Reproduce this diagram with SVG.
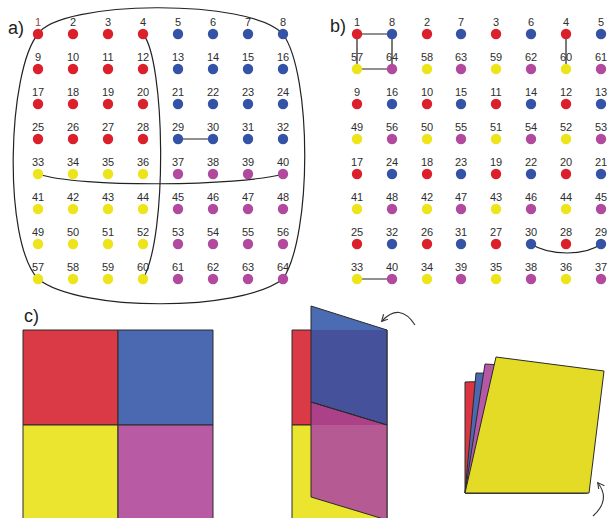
<svg xmlns="http://www.w3.org/2000/svg" width="609" height="518" viewBox="0 0 609 518">
  <style>
    .r{fill:#db1f2b}
    .b{fill:#3453a6}
    .y{fill:#eee41c}
    .m{fill:#b14a9f}
    .node circle{stroke:none}
    .node text{font-family:"Liberation Sans",Arial,sans-serif;font-size:11px;fill:#2e2e2e;text-anchor:middle}
    .panel{font-family:"Liberation Sans",Arial,sans-serif;font-size:18px;fill:#222}
    .link{fill:none;stroke:#222;stroke-width:1.2}
    .sheet{stroke:#2a2a2a;stroke-width:1;stroke-linejoin:round}
    .arrow{fill:none;stroke:#333;stroke-width:1.1}
  </style>
  <defs>
    <marker id="chev" markerWidth="8" markerHeight="8" refX="6" refY="3.5" orient="auto" markerUnits="userSpaceOnUse">
      <path d="M0,0 L6.5,3.5 L0,7" fill="none" stroke="#333" stroke-width="1.1"/>
    </marker>
  </defs>
  <rect width="609" height="518" fill="#fff"/>

  <text class="panel" x="8" y="34">a)</text>
  <text class="panel" x="330" y="32">b)</text>
  <text class="panel" x="24" y="322">c)</text>

  <!-- connectors -->
  <g id="connectors">
    <path class="link" d="M38,34 C60,0 250,-2 283,34"/>
    <path class="link" d="M38,34 C8,70 2,240 38,279"/>
    <path class="link" d="M38,279 C80,312 240,312 283,279"/>
    <path class="link" d="M283,34 C312,75 312,235 283,279"/>
    <path class="link" d="M143,34 C165,60 168,235 143,279"/>
    <path class="link" d="M38,174 C80,188 240,186 283,174"/>
    <path class="link" d="M178,139 L213,139"/>
    <path class="link" d="M357,34 L392,34 L392,69 L357,69 Z"/>
    <path class="link" d="M566,34 L566,69"/>
    <path class="link" d="M531,244 C550,256 585,256 601,244"/>
    <path class="link" d="M357,279 L392,279"/>
  </g>

  <!-- panel a: 8x8 grid -->
  <g id="panel-a">
    <g id="a1" class="node" transform="translate(38,34)"><circle class="r" r="5.2"/><text y="-8" style="fill:#8c4a3c">1</text></g>
    <g id="a2" class="node" transform="translate(73,34)"><circle class="r" r="5.2"/><text y="-8">2</text></g>
    <g id="a3" class="node" transform="translate(108,34)"><circle class="r" r="5.2"/><text y="-8">3</text></g>
    <g id="a4" class="node" transform="translate(143,34)"><circle class="r" r="5.2"/><text y="-8">4</text></g>
    <g id="a5" class="node" transform="translate(178,34)"><circle class="b" r="5.2"/><text y="-8">5</text></g>
    <g id="a6" class="node" transform="translate(213,34)"><circle class="b" r="5.2"/><text y="-8">6</text></g>
    <g id="a7" class="node" transform="translate(248,34)"><circle class="b" r="5.2"/><text y="-8">7</text></g>
    <g id="a8" class="node" transform="translate(283,34)"><circle class="b" r="5.2"/><text y="-8">8</text></g>

    <g id="a9" class="node" transform="translate(38,69)"><circle class="r" r="5.2"/><text y="-8">9</text></g>
    <g id="a10" class="node" transform="translate(73,69)"><circle class="r" r="5.2"/><text y="-8">10</text></g>
    <g id="a11" class="node" transform="translate(108,69)"><circle class="r" r="5.2"/><text y="-8">11</text></g>
    <g id="a12" class="node" transform="translate(143,69)"><circle class="r" r="5.2"/><text y="-8">12</text></g>
    <g id="a13" class="node" transform="translate(178,69)"><circle class="b" r="5.2"/><text y="-8">13</text></g>
    <g id="a14" class="node" transform="translate(213,69)"><circle class="b" r="5.2"/><text y="-8">14</text></g>
    <g id="a15" class="node" transform="translate(248,69)"><circle class="b" r="5.2"/><text y="-8">15</text></g>
    <g id="a16" class="node" transform="translate(283,69)"><circle class="b" r="5.2"/><text y="-8">16</text></g>

    <g id="a17" class="node" transform="translate(38,104)"><circle class="r" r="5.2"/><text y="-8">17</text></g>
    <g id="a18" class="node" transform="translate(73,104)"><circle class="r" r="5.2"/><text y="-8">18</text></g>
    <g id="a19" class="node" transform="translate(108,104)"><circle class="r" r="5.2"/><text y="-8">19</text></g>
    <g id="a20" class="node" transform="translate(143,104)"><circle class="r" r="5.2"/><text y="-8">20</text></g>
    <g id="a21" class="node" transform="translate(178,104)"><circle class="b" r="5.2"/><text y="-8">21</text></g>
    <g id="a22" class="node" transform="translate(213,104)"><circle class="b" r="5.2"/><text y="-8">22</text></g>
    <g id="a23" class="node" transform="translate(248,104)"><circle class="b" r="5.2"/><text y="-8">23</text></g>
    <g id="a24" class="node" transform="translate(283,104)"><circle class="b" r="5.2"/><text y="-8">24</text></g>

    <g id="a25" class="node" transform="translate(38,139)"><circle class="r" r="5.2"/><text y="-8">25</text></g>
    <g id="a26" class="node" transform="translate(73,139)"><circle class="r" r="5.2"/><text y="-8">26</text></g>
    <g id="a27" class="node" transform="translate(108,139)"><circle class="r" r="5.2"/><text y="-8">27</text></g>
    <g id="a28" class="node" transform="translate(143,139)"><circle class="r" r="5.2"/><text y="-8">28</text></g>
    <g id="a29" class="node" transform="translate(178,139)"><circle class="b" r="5.2"/><text y="-8">29</text></g>
    <g id="a30" class="node" transform="translate(213,139)"><circle class="b" r="5.2"/><text y="-8">30</text></g>
    <g id="a31" class="node" transform="translate(248,139)"><circle class="b" r="5.2"/><text y="-8">31</text></g>
    <g id="a32" class="node" transform="translate(283,139)"><circle class="b" r="5.2"/><text y="-8">32</text></g>

    <g id="a33" class="node" transform="translate(38,174)"><circle class="y" r="5.2"/><text y="-8">33</text></g>
    <g id="a34" class="node" transform="translate(73,174)"><circle class="y" r="5.2"/><text y="-8">34</text></g>
    <g id="a35" class="node" transform="translate(108,174)"><circle class="y" r="5.2"/><text y="-8">35</text></g>
    <g id="a36" class="node" transform="translate(143,174)"><circle class="y" r="5.2"/><text y="-8">36</text></g>
    <g id="a37" class="node" transform="translate(178,174)"><circle class="m" r="5.2"/><text y="-8">37</text></g>
    <g id="a38" class="node" transform="translate(213,174)"><circle class="m" r="5.2"/><text y="-8">38</text></g>
    <g id="a39" class="node" transform="translate(248,174)"><circle class="m" r="5.2"/><text y="-8">39</text></g>
    <g id="a40" class="node" transform="translate(283,174)"><circle class="m" r="5.2"/><text y="-8">40</text></g>

    <g id="a41" class="node" transform="translate(38,209)"><circle class="y" r="5.2"/><text y="-8">41</text></g>
    <g id="a42" class="node" transform="translate(73,209)"><circle class="y" r="5.2"/><text y="-8">42</text></g>
    <g id="a43" class="node" transform="translate(108,209)"><circle class="y" r="5.2"/><text y="-8">43</text></g>
    <g id="a44" class="node" transform="translate(143,209)"><circle class="y" r="5.2"/><text y="-8">44</text></g>
    <g id="a45" class="node" transform="translate(178,209)"><circle class="m" r="5.2"/><text y="-8">45</text></g>
    <g id="a46" class="node" transform="translate(213,209)"><circle class="m" r="5.2"/><text y="-8">46</text></g>
    <g id="a47" class="node" transform="translate(248,209)"><circle class="m" r="5.2"/><text y="-8">47</text></g>
    <g id="a48" class="node" transform="translate(283,209)"><circle class="m" r="5.2"/><text y="-8">48</text></g>

    <g id="a49" class="node" transform="translate(38,244)"><circle class="y" r="5.2"/><text y="-8">49</text></g>
    <g id="a50" class="node" transform="translate(73,244)"><circle class="y" r="5.2"/><text y="-8">50</text></g>
    <g id="a51" class="node" transform="translate(108,244)"><circle class="y" r="5.2"/><text y="-8">51</text></g>
    <g id="a52" class="node" transform="translate(143,244)"><circle class="y" r="5.2"/><text y="-8">52</text></g>
    <g id="a53" class="node" transform="translate(178,244)"><circle class="m" r="5.2"/><text y="-8">53</text></g>
    <g id="a54" class="node" transform="translate(213,244)"><circle class="m" r="5.2"/><text y="-8">54</text></g>
    <g id="a55" class="node" transform="translate(248,244)"><circle class="m" r="5.2"/><text y="-8">55</text></g>
    <g id="a56" class="node" transform="translate(283,244)"><circle class="m" r="5.2"/><text y="-8">56</text></g>

    <g id="a57" class="node" transform="translate(38,279)"><circle class="y" r="5.2"/><text y="-8">57</text></g>
    <g id="a58" class="node" transform="translate(73,279)"><circle class="y" r="5.2"/><text y="-8">58</text></g>
    <g id="a59" class="node" transform="translate(108,279)"><circle class="y" r="5.2"/><text y="-8">59</text></g>
    <g id="a60" class="node" transform="translate(143,279)"><circle class="y" r="5.2"/><text y="-8">60</text></g>
    <g id="a61" class="node" transform="translate(178,279)"><circle class="m" r="5.2"/><text y="-8">61</text></g>
    <g id="a62" class="node" transform="translate(213,279)"><circle class="m" r="5.2"/><text y="-8">62</text></g>
    <g id="a63" class="node" transform="translate(248,279)"><circle class="m" r="5.2"/><text y="-8">63</text></g>
    <g id="a64" class="node" transform="translate(283,279)"><circle class="m" r="5.2"/><text y="-8">64</text></g>
  </g>

  <!-- panel b: interleaved grid -->
  <g id="panel-b">
    <g id="b1" class="node" transform="translate(357,34)"><circle class="r" r="5.2"/><text y="-8">1</text></g>
    <g id="b8" class="node" transform="translate(392,34)"><circle class="b" r="5.2"/><text y="-8">8</text></g>
    <g id="b2" class="node" transform="translate(427,34)"><circle class="r" r="5.2"/><text y="-8">2</text></g>
    <g id="b7" class="node" transform="translate(461,34)"><circle class="b" r="5.2"/><text y="-8">7</text></g>
    <g id="b3" class="node" transform="translate(496,34)"><circle class="r" r="5.2"/><text y="-8">3</text></g>
    <g id="b6" class="node" transform="translate(531,34)"><circle class="b" r="5.2"/><text y="-8">6</text></g>
    <g id="b4" class="node" transform="translate(566,34)"><circle class="r" r="5.2"/><text y="-8">4</text></g>
    <g id="b5" class="node" transform="translate(601,34)"><circle class="b" r="5.2"/><text y="-8">5</text></g>

    <g id="b57" class="node" transform="translate(357,69)"><circle class="y" r="5.2"/><text y="-8">57</text></g>
    <g id="b64" class="node" transform="translate(392,69)"><circle class="m" r="5.2"/><text y="-8">64</text></g>
    <g id="b58" class="node" transform="translate(427,69)"><circle class="y" r="5.2"/><text y="-8">58</text></g>
    <g id="b63" class="node" transform="translate(461,69)"><circle class="m" r="5.2"/><text y="-8">63</text></g>
    <g id="b59" class="node" transform="translate(496,69)"><circle class="y" r="5.2"/><text y="-8">59</text></g>
    <g id="b62" class="node" transform="translate(531,69)"><circle class="m" r="5.2"/><text y="-8">62</text></g>
    <g id="b60" class="node" transform="translate(566,69)"><circle class="y" r="5.2"/><text y="-8">60</text></g>
    <g id="b61" class="node" transform="translate(601,69)"><circle class="m" r="5.2"/><text y="-8">61</text></g>

    <g id="b9" class="node" transform="translate(357,104)"><circle class="r" r="5.2"/><text y="-8">9</text></g>
    <g id="b16" class="node" transform="translate(392,104)"><circle class="b" r="5.2"/><text y="-8">16</text></g>
    <g id="b10" class="node" transform="translate(427,104)"><circle class="r" r="5.2"/><text y="-8">10</text></g>
    <g id="b15" class="node" transform="translate(461,104)"><circle class="b" r="5.2"/><text y="-8">15</text></g>
    <g id="b11" class="node" transform="translate(496,104)"><circle class="r" r="5.2"/><text y="-8">11</text></g>
    <g id="b14" class="node" transform="translate(531,104)"><circle class="b" r="5.2"/><text y="-8">14</text></g>
    <g id="b12" class="node" transform="translate(566,104)"><circle class="r" r="5.2"/><text y="-8">12</text></g>
    <g id="b13" class="node" transform="translate(601,104)"><circle class="b" r="5.2"/><text y="-8">13</text></g>

    <g id="b49" class="node" transform="translate(357,139)"><circle class="y" r="5.2"/><text y="-8">49</text></g>
    <g id="b56" class="node" transform="translate(392,139)"><circle class="m" r="5.2"/><text y="-8">56</text></g>
    <g id="b50" class="node" transform="translate(427,139)"><circle class="y" r="5.2"/><text y="-8">50</text></g>
    <g id="b55" class="node" transform="translate(461,139)"><circle class="m" r="5.2"/><text y="-8">55</text></g>
    <g id="b51" class="node" transform="translate(496,139)"><circle class="y" r="5.2"/><text y="-8">51</text></g>
    <g id="b54" class="node" transform="translate(531,139)"><circle class="m" r="5.2"/><text y="-8">54</text></g>
    <g id="b52" class="node" transform="translate(566,139)"><circle class="y" r="5.2"/><text y="-8">52</text></g>
    <g id="b53" class="node" transform="translate(601,139)"><circle class="m" r="5.2"/><text y="-8">53</text></g>

    <g id="b17" class="node" transform="translate(357,174)"><circle class="r" r="5.2"/><text y="-8">17</text></g>
    <g id="b24" class="node" transform="translate(392,174)"><circle class="b" r="5.2"/><text y="-8">24</text></g>
    <g id="b18" class="node" transform="translate(427,174)"><circle class="r" r="5.2"/><text y="-8">18</text></g>
    <g id="b23" class="node" transform="translate(461,174)"><circle class="b" r="5.2"/><text y="-8">23</text></g>
    <g id="b19" class="node" transform="translate(496,174)"><circle class="r" r="5.2"/><text y="-8">19</text></g>
    <g id="b22" class="node" transform="translate(531,174)"><circle class="b" r="5.2"/><text y="-8">22</text></g>
    <g id="b20" class="node" transform="translate(566,174)"><circle class="r" r="5.2"/><text y="-8">20</text></g>
    <g id="b21" class="node" transform="translate(601,174)"><circle class="b" r="5.2"/><text y="-8">21</text></g>

    <g id="b41" class="node" transform="translate(357,209)"><circle class="y" r="5.2"/><text y="-8">41</text></g>
    <g id="b48" class="node" transform="translate(392,209)"><circle class="m" r="5.2"/><text y="-8">48</text></g>
    <g id="b42" class="node" transform="translate(427,209)"><circle class="y" r="5.2"/><text y="-8">42</text></g>
    <g id="b47" class="node" transform="translate(461,209)"><circle class="m" r="5.2"/><text y="-8">47</text></g>
    <g id="b43" class="node" transform="translate(496,209)"><circle class="y" r="5.2"/><text y="-8">43</text></g>
    <g id="b46" class="node" transform="translate(531,209)"><circle class="m" r="5.2"/><text y="-8">46</text></g>
    <g id="b44" class="node" transform="translate(566,209)"><circle class="y" r="5.2"/><text y="-8">44</text></g>
    <g id="b45" class="node" transform="translate(601,209)"><circle class="m" r="5.2"/><text y="-8">45</text></g>

    <g id="b25" class="node" transform="translate(357,244)"><circle class="r" r="5.2"/><text y="-8">25</text></g>
    <g id="b32" class="node" transform="translate(392,244)"><circle class="b" r="5.2"/><text y="-8">32</text></g>
    <g id="b26" class="node" transform="translate(427,244)"><circle class="r" r="5.2"/><text y="-8">26</text></g>
    <g id="b31" class="node" transform="translate(461,244)"><circle class="b" r="5.2"/><text y="-8">31</text></g>
    <g id="b27" class="node" transform="translate(496,244)"><circle class="r" r="5.2"/><text y="-8">27</text></g>
    <g id="b30" class="node" transform="translate(531,244)"><circle class="b" r="5.2"/><text y="-8">30</text></g>
    <g id="b28" class="node" transform="translate(566,244)"><circle class="r" r="5.2"/><text y="-8">28</text></g>
    <g id="b29" class="node" transform="translate(601,244)"><circle class="b" r="5.2"/><text y="-8">29</text></g>

    <g id="b33" class="node" transform="translate(357,279)"><circle class="y" r="5.2"/><text y="-8">33</text></g>
    <g id="b40" class="node" transform="translate(392,279)"><circle class="m" r="5.2"/><text y="-8">40</text></g>
    <g id="b34" class="node" transform="translate(427,279)"><circle class="y" r="5.2"/><text y="-8">34</text></g>
    <g id="b39" class="node" transform="translate(461,279)"><circle class="m" r="5.2"/><text y="-8">39</text></g>
    <g id="b35" class="node" transform="translate(496,279)"><circle class="y" r="5.2"/><text y="-8">35</text></g>
    <g id="b38" class="node" transform="translate(531,279)"><circle class="m" r="5.2"/><text y="-8">38</text></g>
    <g id="b36" class="node" transform="translate(566,279)"><circle class="y" r="5.2"/><text y="-8">36</text></g>
    <g id="b37" class="node" transform="translate(601,279)"><circle class="m" r="5.2"/><text y="-8">37</text></g>
  </g>

  <!-- panel c: flat sheet of four squares -->
  <g id="sheet-flat">
    <rect class="sheet" x="23" y="330" width="95" height="95" fill="#d93a45"/>
    <rect class="sheet" x="118" y="330" width="95" height="95" fill="#4a69b0"/>
    <rect class="sheet" x="23" y="425" width="95" height="95" fill="#ebe52f"/>
    <rect class="sheet" x="118" y="425" width="95" height="95" fill="#b85ba4"/>
  </g>

  <!-- panel c: right half folding over -->
  <g id="sheet-folding">
    <rect class="sheet" x="292" y="330" width="95" height="95" fill="#d93a45"/>
    <rect class="sheet" x="292" y="425" width="95" height="95" fill="#ebe52f"/>
    <polygon points="311,306 387,330 311,330" fill="#4b6bb3"/>
    <polygon points="311,330 387,330 387,425 311,402" fill="#45519a"/>
    <polygon points="311,402 387,425 387,520 311,497" fill="#b65a93"/>
    <polygon points="311,402 387,425 311,425" fill="#ad4189"/>
    <polygon class="sheet" points="311,306 387,330 387,425 311,402" fill="none"/>
    <polygon class="sheet" points="311,402 387,425 387,520 311,497" fill="none"/>
    <path class="arrow" d="M415,325 Q400,302 382,321" marker-end="url(#chev)"/>
  </g>

  <!-- panel c: stacked sheets fanned from the corner -->
  <g id="sheet-stack">
    <polygon class="sheet" points="465,382 572,379 584,493 465,493" fill="#da3540"/>
    <polygon class="sheet" points="476,373 580,375 587,493 465,493" fill="#4c68b0"/>
    <polygon class="sheet" points="485,364 592,370 588,493 465,493" fill="#b658a6"/>
    <polygon class="sheet" points="496,357 604,371 589,493 465,493" fill="#e4db26"/>
    <path class="arrow" d="M593,516 Q611,500 598,483" marker-end="url(#chev)"/>
  </g>
</svg>
